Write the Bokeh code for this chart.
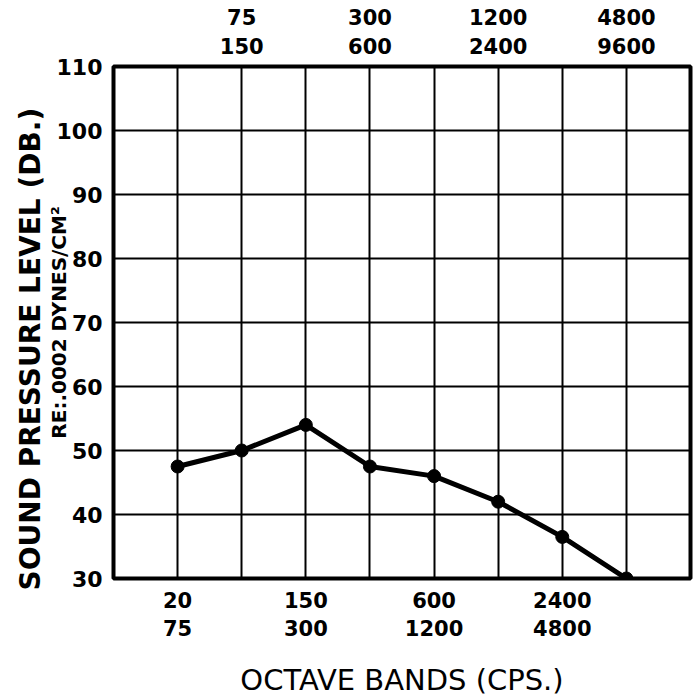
from bokeh.plotting import figure
from bokeh.models import FixedTicker, LinearAxis, Range1d, Title
from bokeh.embed import file_html
from bokeh.resources import INLINE

# Octave bands (cps) and measured sound pressure level (dB re .0002 dynes/cm2)
band_pos = [1, 2, 3, 4, 5, 6, 7, 8]
band_labels = ["20\n75", "75\n150", "150\n300", "300\n600",
               "600\n1200", "1200\n2400", "2400\n4800", "4800\n9600"]
spl_db = [47.5, 50, 54, 47.5, 46, 42, 36.5, 30]
y_ticks = [30, 40, 50, 60, 70, 80, 90, 100, 110]

FONT = "DejaVu Sans"

p = figure(width=700, height=700, output_backend="svg", toolbar_location=None,
           x_range=Range1d(0, 9), y_range=Range1d(30, 110),
           min_border_left=113, min_border_right=10,
           min_border_top=66, min_border_bottom=122)
p.background_fill_color = "white"
p.border_fill_color = "white"
p.outline_line_color = "black"
p.outline_line_width = 4

# grid
p.xgrid.ticker = FixedTicker(ticks=band_pos)
p.ygrid.ticker = FixedTicker(ticks=y_ticks[1:-1])
for g in (p.xgrid, p.ygrid):
    g.grid_line_color = "black"
    g.grid_line_width = 2
    g.grid_line_alpha = 1

def style_axis(ax):
    ax.axis_line_color = None
    ax.major_tick_line_color = None
    ax.minor_tick_line_color = None
    ax.major_label_text_font = FONT
    ax.major_label_text_font_style = "bold"
    ax.major_label_text_font_size = "21px"
    ax.major_label_text_color = "black"
    ax.axis_label_text_font = FONT
    ax.axis_label_text_color = "black"

# bottom axis: odd bands
xb = p.xaxis[0]
xb.ticker = FixedTicker(ticks=band_pos[0::2])
xb.major_label_overrides = {b: l for b, l in zip(band_pos, band_labels)}
style_axis(xb)
xb.major_label_standoff = 4
xb.axis_label = "OCTAVE BANDS (CPS.)"
xb.axis_label_text_font_size = "29px"
xb.axis_label_text_font_style = "normal"
xb.axis_label_standoff = 19

# top axis: even bands
xt = LinearAxis(ticker=FixedTicker(ticks=band_pos[1::2]),
                major_label_overrides={b: l for b, l in zip(band_pos, band_labels)})
style_axis(xt)
xt.major_label_standoff = 2
p.add_layout(xt, "above")

# left axis, with the reference-pressure note as its label
yl = p.yaxis[0]
yl.ticker = FixedTicker(ticks=y_ticks)
style_axis(yl)
yl.major_label_text_font_size = "22px"
yl.major_label_standoff = 5
yl.axis_label = "RE:.0002 DYNES/CM\u00b2"
yl.axis_label_text_font_size = "20px"
yl.axis_label_text_font_style = "bold"
yl.axis_label_standoff = -17

# main vertical title, outside the left axis
p.add_layout(Title(text="SOUND PRESSURE LEVEL (DB.)", align="left",
                   offset=-12, standoff=-6, text_font=FONT,
                   text_font_style="bold", text_font_size="28px",
                   text_color="black"), "left")

# data
p.line(band_pos, spl_db, line_color="black", line_width=5)
p.scatter(band_pos, spl_db, size=13, fill_color="black", line_color="black")

open("out.html", "w").write(file_html(p, INLINE))
